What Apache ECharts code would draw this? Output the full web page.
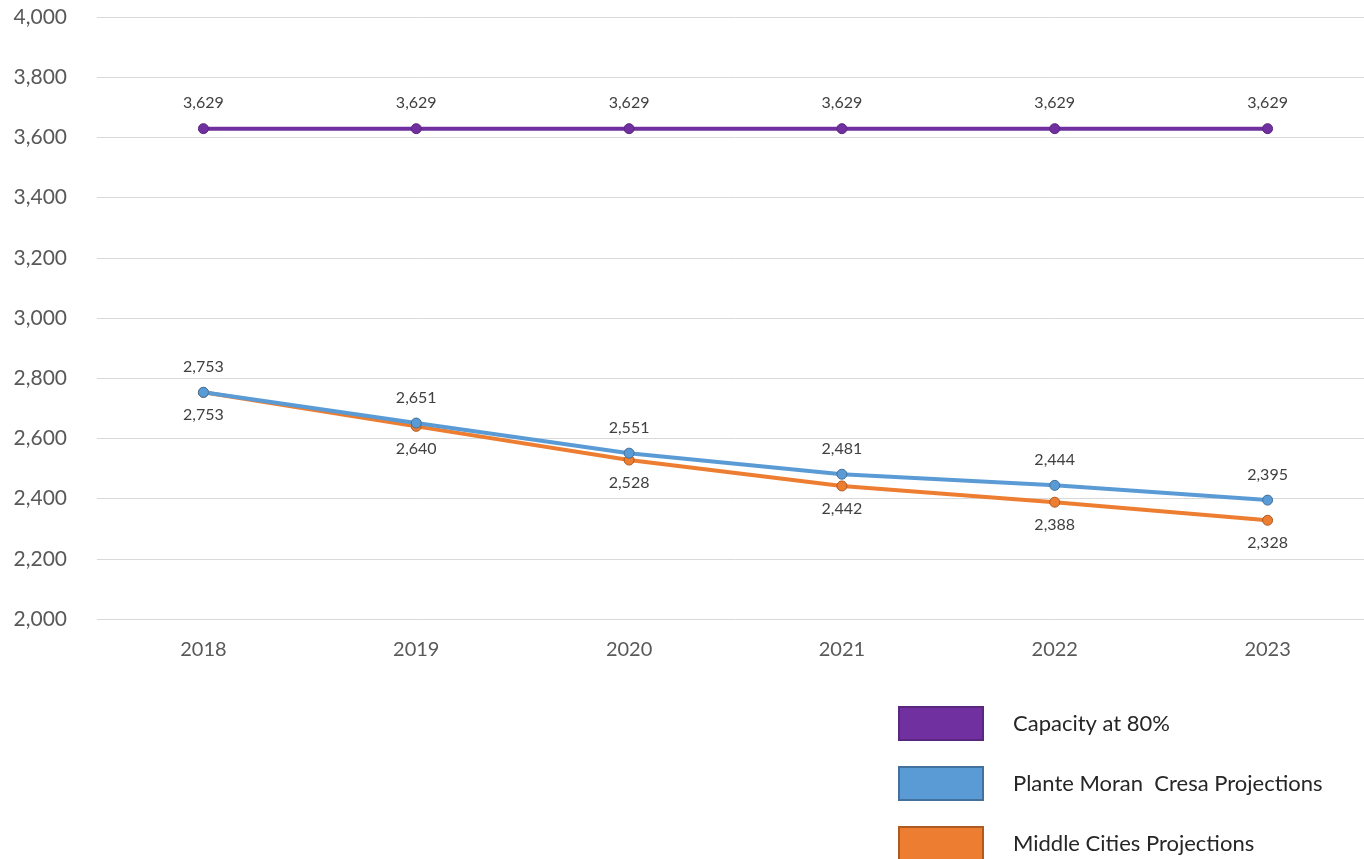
<!DOCTYPE html>
<html><head><meta charset="utf-8">
<script src="https://cdn.jsdelivr.net/npm/echarts@6/dist/echarts.min.js"></script>
<style>html,body{margin:0;padding:0;background:#fff;overflow:hidden}#c{width:1380px;height:859px}</style>
</head><body><div id="c"></div>
<script>
var categories = ['2018','2019','2020','2021','2022','2023'];
var capacity = [3629,3629,3629,3629,3629,3629];
var planteMoran = [2753,2651,2551,2481,2444,2395];
var middleCities = [2753,2640,2528,2442,2388,2328];
var seriesNames = ['Capacity at 80%','Plante Moran  Cresa Projections','Middle Cities Projections'];
var yTicks = {min:2000, max:4000, interval:200};

var FONT = 'Lato, "Open Sans", sans-serif';
var fmt = function(v){ return Number(v).toLocaleString('en-US'); };
function lbl(pos, dist){
  return {show:true, position:pos, distance:dist, color:'#404040', fontSize:16, fontFamily:FONT,
    formatter:function(p){return fmt(p.value);}};
}
var chart = echarts.init(document.getElementById('c'));
chart.setOption({
  animation:false,
  grid:{left:97, width:1277, top:17, height:602},
  legend:{
    orient:'vertical', left:898, top:706, height:400, padding:0,
    itemWidth:84, itemHeight:33, itemGap:25,
    icon:'rect',
    textStyle:{fontSize:22, fontFamily:FONT, color:'#262626', padding:[0,0,0,25]},
    data:seriesNames
  },
  xAxis:{type:'category', data:categories, boundaryGap:true,
    axisLine:{show:false}, axisTick:{show:false},
    axisLabel:{color:'#595959', fontSize:20, fontFamily:FONT, margin:21}},
  yAxis:{type:'value', min:yTicks.min, max:yTicks.max, interval:yTicks.interval,
    axisLine:{show:false}, axisTick:{show:false},
    splitLine:{lineStyle:{color:'#d9d9d9', width:1}},
    axisLabel:{color:'#595959', fontSize:21, fontFamily:FONT, margin:30, formatter:fmt}},
  series:[
    {name:seriesNames[0], type:'line', data:capacity, symbol:'circle', symbolSize:10,
      lineStyle:{color:'#7030A0', width:4}, itemStyle:{color:'#7030A0', borderColor:'#5a2680', borderWidth:1},
      label:lbl('top',12)},
    {name:seriesNames[1], type:'line', data:planteMoran, symbol:'circle', symbolSize:10, z:3,
      lineStyle:{color:'#5B9BD5', width:4}, itemStyle:{color:'#5B9BD5', borderColor:'#41719c', borderWidth:1},
      label:lbl('top',12)},
    {name:seriesNames[2], type:'line', data:middleCities, symbol:'circle', symbolSize:10, z:2,
      lineStyle:{color:'#ED7D31', width:4}, itemStyle:{color:'#ED7D31', borderColor:'#ae5a21', borderWidth:1},
      label:lbl('bottom',9)}
  ]
});
</script></body></html>
